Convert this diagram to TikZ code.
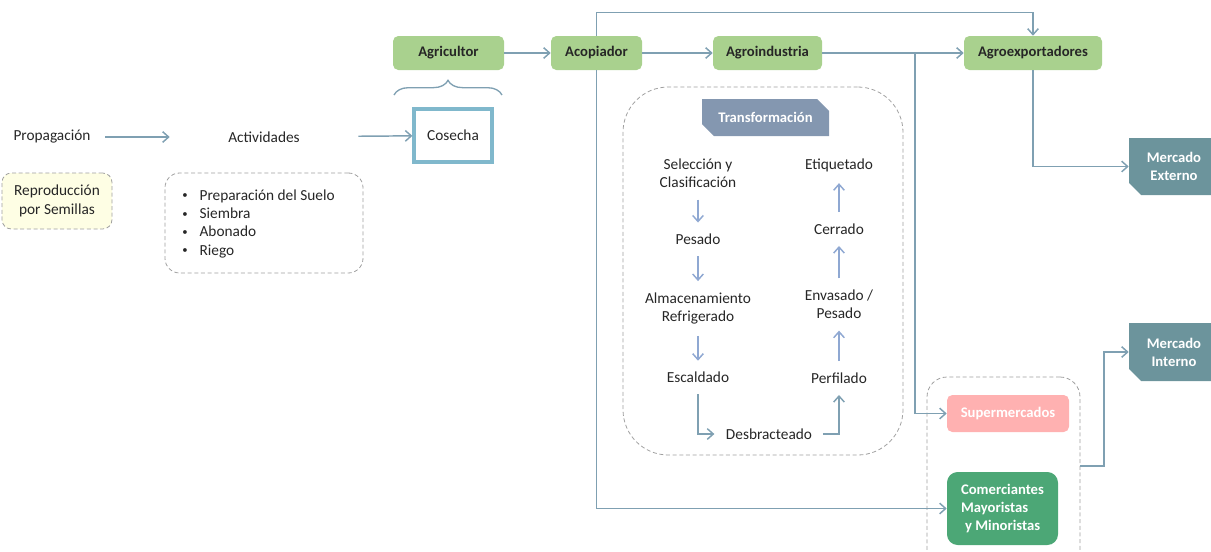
\documentclass[tikz,border=0pt]{standalone}
\usepackage{fontspec}
\setmainfont{Carlito}
\usetikzlibrary{arrows.meta,shapes.misc,decorations.pathreplacing}
\definecolor{lc}{HTML}{7FA0B2}
\definecolor{lc2}{HTML}{8FA8D2}
\definecolor{tc}{HTML}{262626}
\definecolor{lgreen}{HTML}{A9D18E}
\definecolor{dgreen}{HTML}{4CA776}
\definecolor{pinkb}{HTML}{FFB1B1}
\definecolor{merc}{HTML}{6C949C}
\definecolor{tlabc}{HTML}{8497B0}
\definecolor{cosb}{HTML}{80B8CC}
\definecolor{yel}{HTML}{FEFEE4}
\definecolor{dashc}{HTML}{A0A0A0}
\newcommand{\smbul}{\raisebox{0.15ex}{\scalebox{0.7}{\textbullet}}}
\tikzset{
  px/.style 2 args={minimum width=#1*0.75pt, minimum height=#2*0.75pt},
  fnt/.style={font=\fontsize{11.5}{13.75}\selectfont},
  txt/.style={fnt, text=tc, inner sep=0pt},
  gbox/.style={font=\fontsize{11}{13.75}\selectfont\bfseries, fill=lgreen, rounded corners=4pt, text=tc, inner sep=0pt},
  wbox/.style={font=\fontsize{11}{13.5}\selectfont\bfseries, text=white, inner sep=0pt},
  dbox/.style={draw=dashc, dash pattern=on 3pt off 2pt, line width=0.6pt},
  arr/.style={draw=lc, line width=1.1pt, -{Straight Barb[length=4.5pt,width=8pt]}},
  iarr/.style={draw=lc2, line width=1.1pt, -{Straight Barb[length=4.5pt,width=8pt]}, shorten <=8.5pt, shorten >=8.5pt},
  jarr/.style={arr, shorten <=8pt, shorten >=8.5pt},
  merca/.style={wbox, fill=merc, chamfered rectangle, chamfered rectangle corners=south west, chamfered rectangle xsep=4.5pt, chamfered rectangle ysep=4.5pt, align=center}
}
\begin{document}
\begin{tikzpicture}[x=0.75pt,y=-0.75pt]
\useasboundingbox (0,0) rectangle (1211,551);

% top row
\node[gbox, px={111}{34}] (agri) at (448.5,53) {Agricultor};
\node[gbox, px={91}{34}] (acop) at (596.5,53) {Acopiador};
\node[gbox, px={109}{34}] (agroind) at (767.5,53) {Agroindustria};
\node[gbox, px={138}{34}] (agroexp) at (1033,53) {Agroexportadores};

% left
\node[txt, px={106}{20}] (prop) at (52,137) {Propagación};
\node[txt, px={188}{20}] (act) at (264,137) {Actividades};
\node[fnt, text=tc, draw=cosb, line width=2.4pt, px={78}{53}, inner sep=0pt] (cos) at (453,135.5) {Cosecha};
\draw[decorate, decoration={brace, amplitude=11pt}, draw=lc, line width=1pt] (394,95) -- (502,95);

\node[txt, dbox, fill=yel, px={110}{56}, rounded corners=7pt, align=center] (rep) at (57,201) {Reproducción\\por Semillas};
\node[dbox, px={198}{100}, rounded corners=11pt] (actbox) at (264,223) {};
\node[txt, align=left, anchor=west] (list) at (182,223.5)
  {\smbul\hspace{9pt}Preparación del Suelo\\\smbul\hspace{9pt}Siembra\\\smbul\hspace{9pt}Abonado\\\smbul\hspace{9pt}Riego};

\draw[arr] (prop) -- (act);
\draw[arr] (act) -- (cos);

% transformation
\node[dbox, px={280}{368}, rounded corners=34pt] (tbox) at (763,271) {};
\node[wbox, fill=tlabc, chamfered rectangle, chamfered rectangle corners={north east,south west}, chamfered rectangle xsep=5pt, chamfered rectangle ysep=5pt, px={127}{37}] (tlab) at (765.5,117.5) {Transformación};

\node[txt, align=center] (sel) at (698,173.5) {Selección y\\Clasificación};
\node[txt] (pes) at (698,239.5) {Pesado};
\node[txt, align=center] (alm) at (698,308.5) {Almacenamiento\\Refrigerado};
\node[txt] (esc) at (698,377.7) {Escaldado};
\node[txt] (des) at (769,434) {Desbracteado};
\node[txt] (per) at (839,378) {Perfilado};
\node[txt, align=center] (env) at (839,304.5) {Envasado /\\Pesado};
\node[txt] (cer) at (839,229) {Cerrado};
\node[txt] (eti) at (839,165) {Etiquetado};

\draw[iarr] (sel) -- (pes);
\draw[iarr] (pes) -- (alm);
\draw[iarr] (alm) -- (esc);
\draw[jarr] (esc) |- (des);
\draw[jarr] (des) -| (per);
\draw[iarr] (per) -- (env);
\draw[iarr] (env) -- (cer);
\draw[iarr] (cer) -- (eti);

% right
\node[merca, px={90}{57}] (mext) at (1174,166.5) {Mercado\\Externo};
\node[merca, px={90}{58}] (mint) at (1174,352) {Mercado\\Interno};

\node[dbox, px={153}{193}, rounded corners=15pt] (grp) at (1003.5,473.5) {};
\node[wbox, fill=pinkb, rounded corners=4pt, px={122}{37}] (super) at (1008,413.5) {Supermercados};
\node[wbox, fill=dgreen, rounded corners=8pt, px={111}{73}, align=left] (comer) at (1002.5,508.5) {Comerciantes\\Mayoristas\\\hspace*{3pt}y Minoristas};

% connectors
\draw[arr] (agri) -- (acop);
\draw[arr] (acop) -- (agroind);
\draw[arr] (agroind) -- (agroexp);
\draw[arr] (acop.north) -- ++(0,-23) -| (agroexp.north);
\draw[arr] (acop.south) |- (comer.west);
\coordinate (br) at (915,53);
\draw[arr] (br) |- (super.west);
\draw[arr] (agroexp.south) |- (mext.west);
\coordinate (gout) at (1080,466);
\draw[arr] (gout) -- ++(24,0) |- (mint.west);
\end{tikzpicture}
\end{document}
